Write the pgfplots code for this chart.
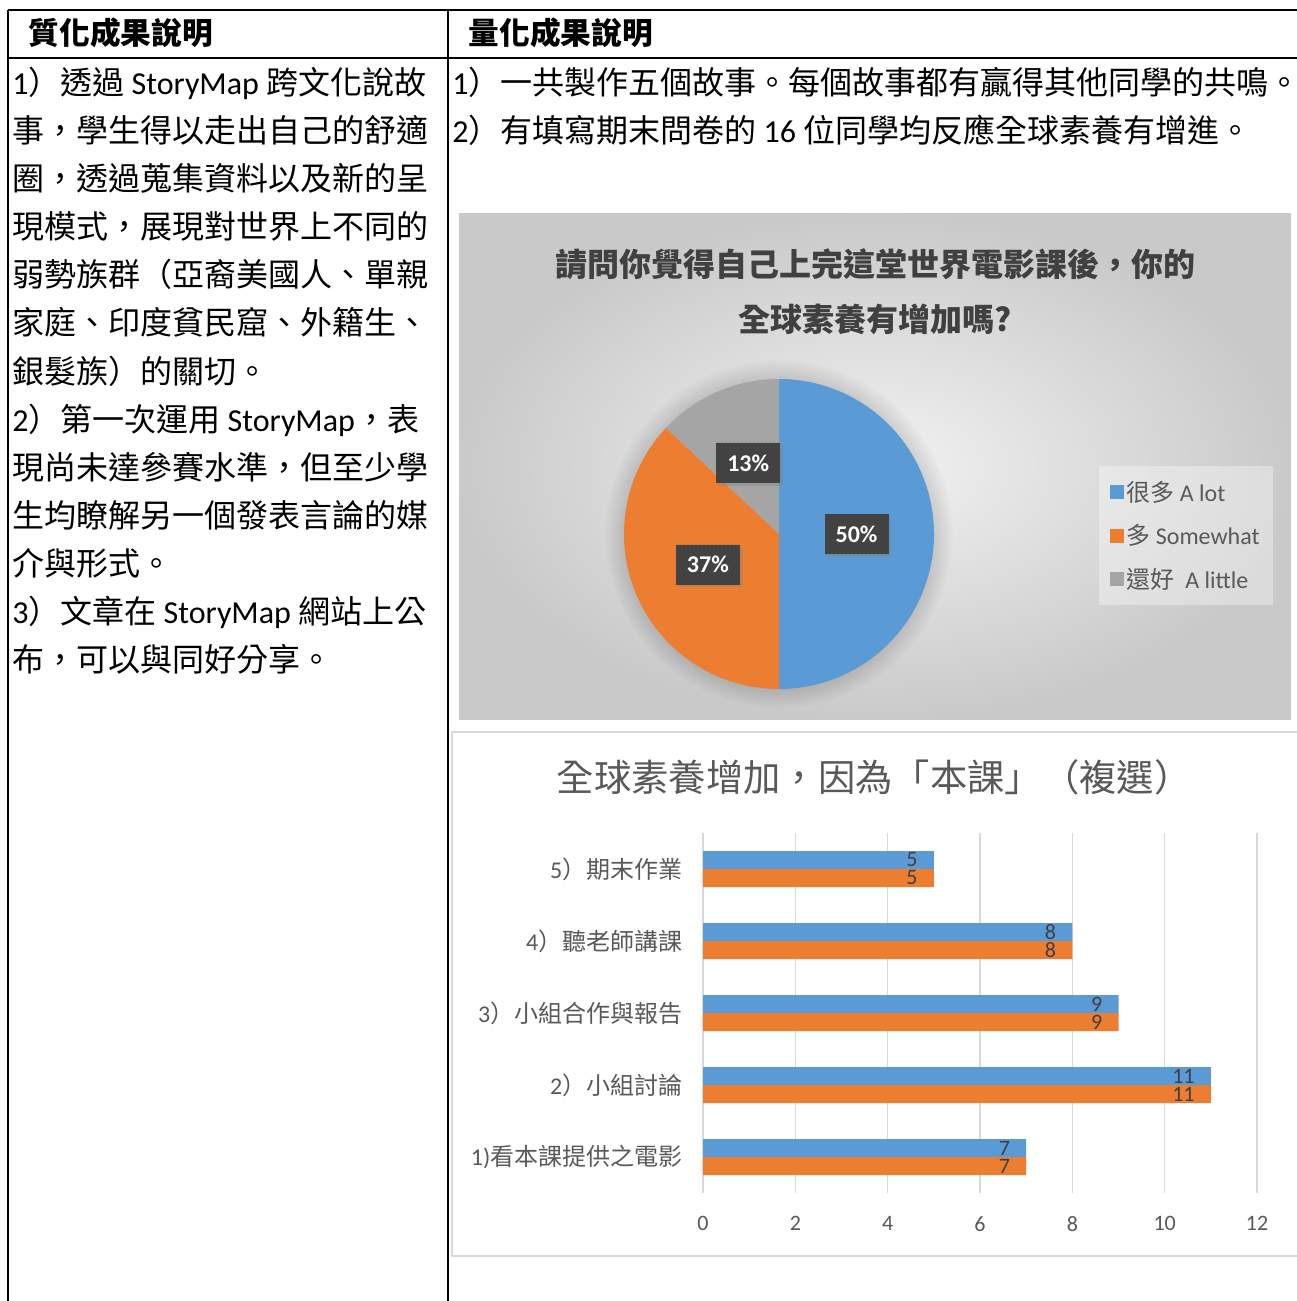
\documentclass[border=0pt]{standalone}
\usepackage{fontspec}
\usepackage{pgfplots}
\pgfplotsset{compat=1.18}
\usepackage{pgfplotstable}
\usetikzlibrary{patterns,shadows}
\setmainfont{Carlito}
\newfontfamily\cjk{Noto Sans CJK TC}
\newcommand\C[1]{{\cjk #1}}
\definecolor{cblue}{HTML}{5B9BD5}
\definecolor{corange}{HTML}{ED7D31}
\definecolor{cgray}{HTML}{A5A5A5}
\definecolor{txt}{HTML}{595959}
\definecolor{dark}{HTML}{404040}
\definecolor{gridc}{HTML}{D9D9D9}
\tikzset{pl/.style={fill=dark, text=white, font=\bfseries\fontsize{18}{18}\selectfont,
    minimum width=48pt, minimum height=30pt, inner sep=0pt,
    postaction={pattern=crosshatch dots, pattern color=gray!70!black},
    drop shadow={opacity=0.35, shadow xshift=2pt, shadow yshift=-2pt}}}

% pie data (percent)
\def\pA{50}\def\pB{37}\def\pC{13}
% bar data
\pgfplotstableread{
cat val
1 7
2 11
3 9
4 8
5 5
}\barA
\pgfplotstableread{
cat val
1 7
2 11
3 9
4 8
5 5
}\barB

\pgfmathsetmacro\aAe{90-3.6*\pA}
\pgfmathsetmacro\aBe{\aAe-3.6*\pB}
\pgfmathsetmacro\aCe{\aBe-3.6*\pC}
\pgfmathsetmacro\mA{(90+\aAe)/2}
\pgfmathsetmacro\mB{(\aAe+\aBe)/2}
\pgfmathsetmacro\mC{(\aBe+\aCe)/2}
\pgfmathsetmacro\lAx{0.5*cos(\mA)}\pgfmathsetmacro\lAy{0.5*sin(\mA)}
\pgfmathsetmacro\lBx{0.5*cos(\mB)}\pgfmathsetmacro\lBy{0.5*sin(\mB)}
\pgfmathsetmacro\lCx{0.5*cos(\mC)}\pgfmathsetmacro\lCy{0.5*sin(\mC)}

\begin{document}
\begin{tikzpicture}
\path[use as bounding box] (0,0) rectangle (972pt,-975.75pt);
\begin{scope}[x=0.75pt,y=-0.75pt]
% pie chart background
\shade[inner color=white!95!black, outer color=white!79!black] (459,214) rectangle (1291,719);
\foreach \r in {156,158,...,174}{\fill[black,opacity=0.012] (779,534) circle (\r);}
% pie title
\node[font=\cjk\bfseries\fontsize{24}{24}\selectfont, text=dark] at (875,264) {請問你覺得自己上完這堂世界電影課後，你的};
\node[font=\cjk\bfseries\fontsize{24}{24}\selectfont, text=dark] at (875,319) {全球素養有增加嗎?};
% bar chart box
\draw[gridc, line width=1.5pt, fill=white] (452,732) rectangle (1310,1256);
\node[font=\cjk\fontsize{28}{28}\selectfont, text=txt] at (874,777) {全球素養增加，因為「本課」（複選）};
% table lines
\draw[black, line width=1.3pt] (8,10) -- (1300,10);
\draw[black, line width=1.3pt] (8,58) -- (1300,58);
\draw[black, line width=1.3pt] (8,10) -- (8,1310);
\draw[black, line width=1.3pt] (448,10) -- (448,1310);
% headers
\node[anchor=base west, font=\cjk\bfseries\fontsize{23}{23}\selectfont] at (24,45) {質化成果說明};
\node[anchor=base west, font=\cjk\bfseries\fontsize{23}{23}\selectfont] at (464,45) {量化成果說明};
% left column
\begin{scope}[every node/.style={anchor=base west, inner sep=0pt, font=\fontsize{24}{24}\selectfont}]
\node at (12,95) {1\C{）透過} StoryMap \C{跨文化說故}};
\node at (12,143) {\C{事，學生得以走出自己的舒適}};
\node at (12,191) {\C{圈，透過蒐集資料以及新的呈}};
\node at (12,239) {\C{現模式，展現對世界上不同的}};
\node at (12,287) {\C{弱勢族群（亞裔美國人、單親}};
\node at (12,335) {\C{家庭、印度貧民窟、外籍生、}};
\node at (12,383) {\C{銀髮族）的關切。}};
\node at (12,431) {2\C{）第一次運用} StoryMap\C{，表}};
\node at (12,479) {\C{現尚未達參賽水準，但至少學}};
\node at (12,527) {\C{生均瞭解另一個發表言論的媒}};
\node at (12,575) {\C{介與形式。}};
\node at (12,623) {3\C{）文章在} StoryMap \C{網站上公}};
\node at (12,671) {\C{布，可以與同好分享。}};
\node at (452,95) {1\C{）一共製作五個故事。每個故事都有贏得其他同學的共鳴。}};
\node at (452,143) {2\C{）有填寫期末問卷的} 16 \C{位同學均反應全球素養有增進。}};
\end{scope}
\end{scope}

% ---------- pie ----------
\begin{axis}[
  at={(344.25pt,-539.25pt)}, anchor=south west,
  scale only axis, width=624pt, height=378.75pt,
  xmin=-2.0645, xmax=3.3032, ymin=-1.1935, ymax=2.0645,
  hide axis, clip=false,
  legend style={at={(0.769,0.501)}, anchor=north west, draw=none,
    fill=white, fill opacity=0.35, text opacity=1,
    font=\fontsize{18}{18}\selectfont, text=txt,
    row sep=12pt, inner xsep=8pt, inner ysep=9pt, cells={anchor=west}},
  legend image code/.code={\fill[#1, fill opacity=1] (0pt,-5.25pt) rectangle (10.5pt,5.25pt);},
]
\addplot[fill=cblue, draw=none, domain=\aAe:90, samples=120] ({cos(x)},{sin(x)}) -- (axis cs:0,0) -- cycle;
\addlegendentry{\C{很多} A lot}
\addplot[fill=corange, draw=none, domain=\aBe:\aAe, samples=120] ({cos(x)},{sin(x)}) -- (axis cs:0,0) -- cycle;
\addlegendentry{\C{多} Somewhat}
\addplot[fill=cgray, draw=none, domain=\aCe:\aBe, samples=60] ({cos(x)},{sin(x)}) -- (axis cs:0,0) -- cycle;
\addlegendentry{\C{還好}\ \ A little}
\node[pl] at (axis cs:\lAx,\lAy) {50\%};
\node[pl] at (axis cs:\lBx,\lBy) {37\%};
\node[pl] at (axis cs:\lCx,\lCy) {13\%};
\end{axis}

% ---------- bars ----------
\begin{axis}[
  at={(527.25pt,-894.75pt)}, anchor=south west,
  scale only axis, width=415.5pt, height=270pt,
  xbar, bar width=13.5pt, bar shift=0pt,
  xmin=0, xmax=12, ymin=0.5, ymax=5.5,
  xtick={0,2,...,12}, ytick={1,2,3,4,5},
  yticklabels={{1)\C{看本課提供之電影}},{2\C{）小組討論}},{3\C{）小組合作與報告}},{4\C{）聽老師講課}},{5\C{）期末作業}}},
  axis line style={draw=none}, major tick length=0pt,
  xmajorgrids, major grid style={gridc, line width=1.2pt},
  /pgf/number format/assume math mode=true,
  xticklabel style={font=\fontsize{16.5}{16.5}\selectfont, text=txt, yshift=-14pt},
  yticklabel style={font=\fontsize{18}{18}\selectfont, text=txt, xshift=-12pt},
  nodes near coords,
  nodes near coords style={anchor=east, inner sep=0pt, xshift=-12pt, font=\fontsize{16.5}{16.5}\selectfont, text=dark},
  clip=false,
]
\addplot[fill=cblue, draw=none] table[x=val, y expr=\thisrow{cat}+0.125]{\barA};
\addplot[fill=corange, draw=none] table[x=val, y expr=\thisrow{cat}-0.125]{\barB};
\end{axis}
\end{tikzpicture}
\end{document}
